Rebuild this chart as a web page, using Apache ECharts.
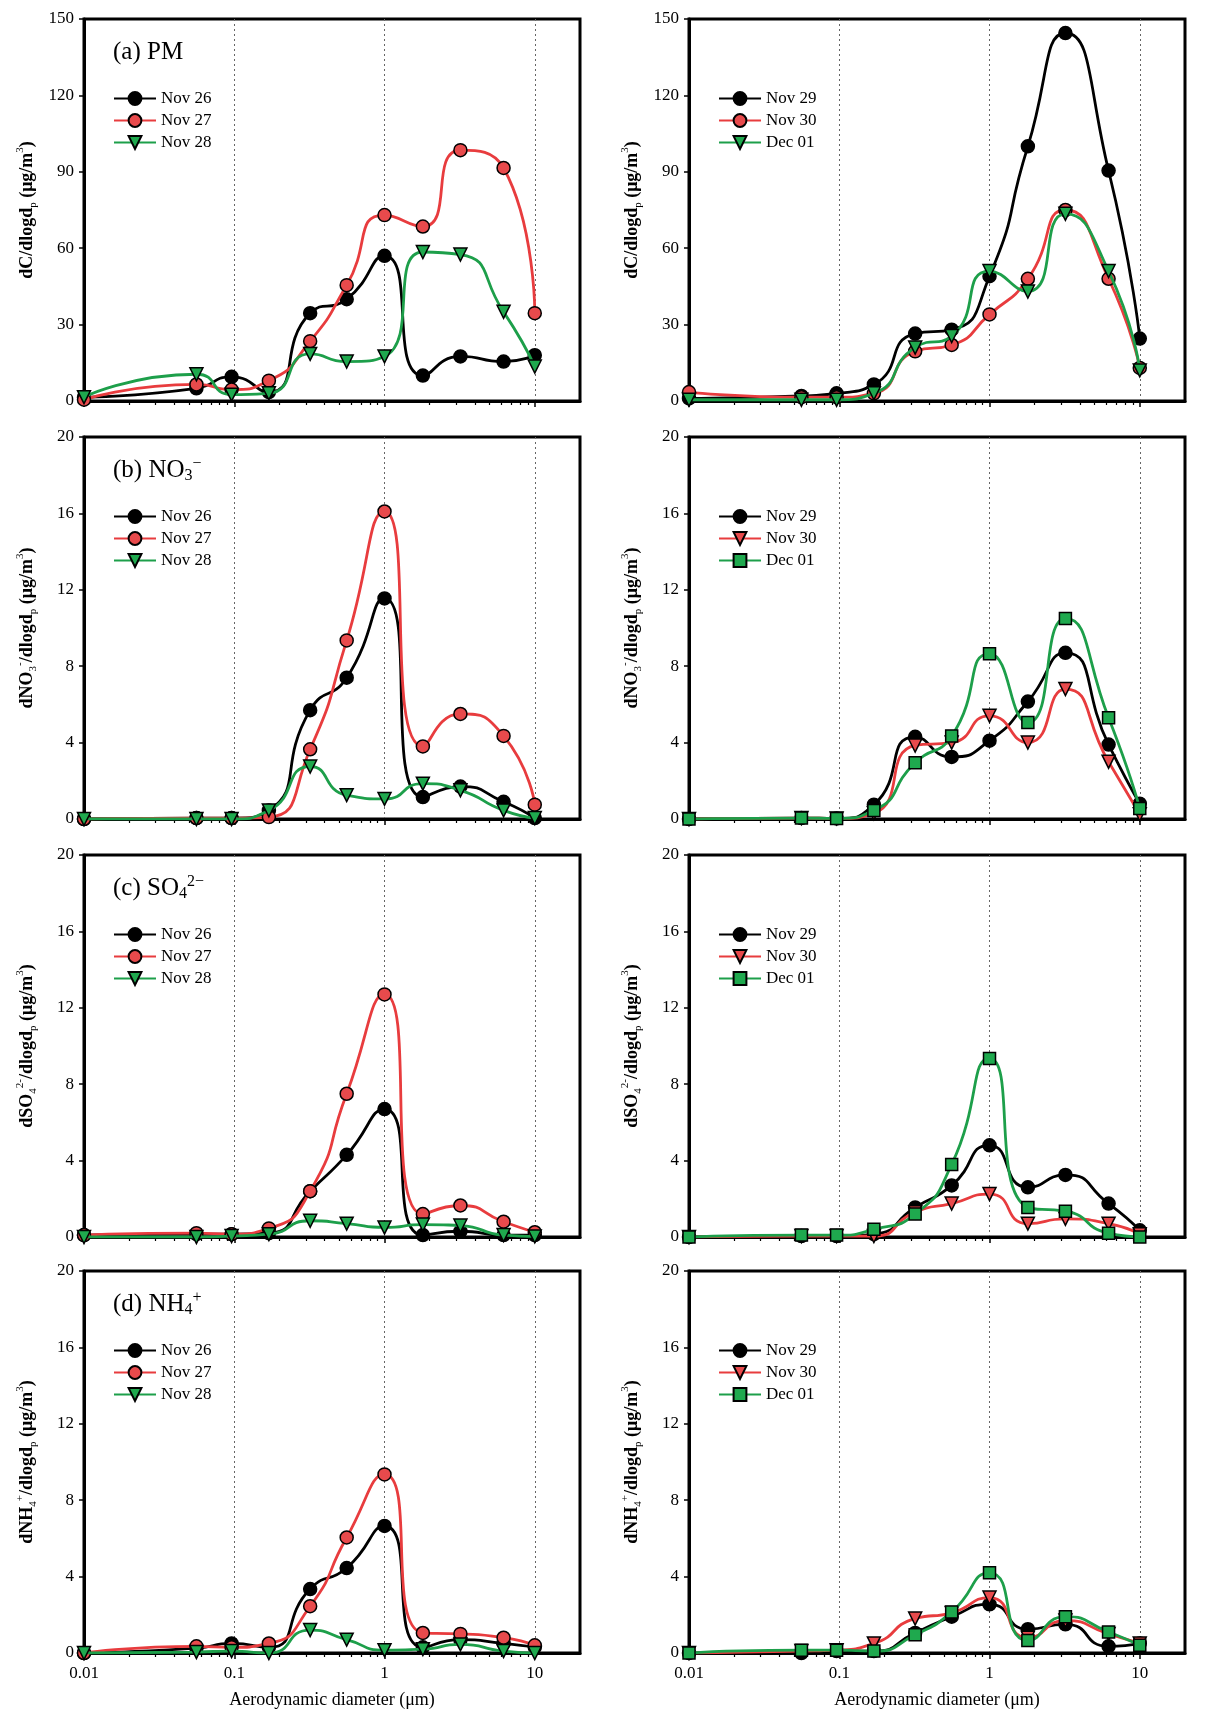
<!DOCTYPE html>
<html>
<head>
<meta charset="utf-8">
<title>Size distributions of PM and ions</title>
<script src="https://cdn.jsdelivr.net/npm/echarts@6/dist/echarts.min.js"></script>
<style>
  html, body { margin: 0; padding: 0; background: #fff; }
  #chart { width: 1218px; height: 1735px; }
</style>
</head>
<body>
<div id="chart"></div>
<script>
// aerodynamic diameter of each stage (um)
var diameters = [0.01, 0.056, 0.096, 0.17, 0.32, 0.56, 1.0, 1.8, 3.2, 6.2, 10];
var majorTicks = [0.01, 0.1, 1, 10];
var minorTicks = [0.02, 0.03, 0.04, 0.05, 0.06, 0.07, 0.08, 0.09,
                  0.2, 0.3, 0.4, 0.5, 0.6, 0.7, 0.8, 0.9,
                  2, 3, 4, 5, 6, 7, 8, 9];
var yTicks = [[0, 150, 30], [0, 20, 4], [0, 20, 4], [0, 20, 4]];

// (a) PM
var pmNov26 = [1.5, 5, 9.5, 3.5, 34.5, 40, 57, 10, 17.5, 15.5, 18];
var pmNov27 = [0.5, 6.5, 4.5, 8, 23.5, 45.5, 73, 68.5, 98.5, 91.5, 34.5];
var pmNov28 = [1.5, 10.5, 2.5, 3, 18.5, 15.5, 17.5, 58.5, 57.5, 35, 13.5];
var pmNov29 = [1, 2, 3, 6.5, 26.5, 28, 49, 100, 144.5, 90.5, 24.5];
var pmNov30 = [3.5, 1.5, 1.5, 3, 19.5, 22, 34, 48, 75, 48, 13];
var pmDec01 = [0.5, 0.5, 0.5, 3, 21, 25.5, 51, 43, 73.5, 51, 12];
// (b) NO3-
var no3Nov26 = [0, 0.05, 0.05, 0.45, 5.7, 7.4, 11.55, 1.15, 1.7, 0.9, 0.05];
var no3Nov27 = [0, 0.05, 0.05, 0.1, 3.65, 9.35, 16.1, 3.8, 5.5, 4.35, 0.75];
var no3Nov28 = [0, 0, 0, 0.45, 2.75, 1.25, 1.05, 1.85, 1.5, 0.45, 0.05];
var no3Nov29 = [0, 0.05, 0.03, 0.75, 4.3, 3.25, 4.1, 6.15, 8.7, 3.9, 0.8];
var no3Nov30 = [0, 0.05, 0.03, 0.3, 3.85, 4.0, 5.4, 4.0, 6.8, 3.0, 0.25];
var no3Dec01 = [0, 0.05, 0.03, 0.45, 2.95, 4.35, 8.65, 5.05, 10.5, 5.3, 0.55];
// (c) SO4 2-
var so4Nov26 = [0.1, 0.15, 0.15, 0.2, 2.4, 4.3, 6.7, 0.1, 0.3, 0.1, 0.1];
var so4Nov27 = [0.1, 0.2, 0.15, 0.45, 2.4, 7.5, 12.7, 1.2, 1.65, 0.8, 0.25];
var so4Nov28 = [0, 0, 0.05, 0.15, 0.85, 0.7, 0.5, 0.65, 0.6, 0.1, 0.03];
var so4Nov29 = [0, 0.05, 0.05, 0.15, 1.55, 2.7, 4.8, 2.6, 3.25, 1.75, 0.35];
var so4Nov30 = [0, 0.05, 0.05, 0.05, 1.3, 1.75, 2.25, 0.7, 0.95, 0.7, 0.15];
var so4Dec01 = [0, 0.1, 0.1, 0.4, 1.2, 3.8, 9.35, 1.55, 1.35, 0.2, 0];
// (d) NH4+
var nh4Nov26 = [0, 0.25, 0.5, 0.3, 3.35, 4.45, 6.65, 0.3, 0.7, 0.5, 0.3];
var nh4Nov27 = [0, 0.35, 0.3, 0.5, 2.45, 6.05, 9.35, 1.05, 1.0, 0.8, 0.4];
var nh4Nov28 = [0, 0.05, 0.1, 0, 1.2, 0.7, 0.15, 0.2, 0.45, 0.1, 0];
var nh4Nov29 = [0, 0, 0.1, 0.1, 1.05, 1.9, 2.55, 1.25, 1.5, 0.35, 0.5];
var nh4Nov30 = [0, 0.1, 0.15, 0.5, 1.8, 2.1, 2.9, 0.8, 1.7, 1.0, 0.5];
var nh4Dec01 = [0, 0.15, 0.15, 0.1, 0.95, 2.15, 4.2, 0.65, 1.9, 1.1, 0.4];

var leftDays = ['Nov 26', 'Nov 27', 'Nov 28'];
var rightDays = ['Nov 29', 'Nov 30', 'Dec 01'];
var panelTitles = ['(a) PM', '(b) NO{s|3}{u|\u2212}', '(c) SO{s|4}{u|2\u2212}', '(d) NH{s|4}{u|+}'];
var yNames = [
  '{t|dC/dlogd}{s|p}{t| (\u03bcg/m}{u|3}{t|)}',
  '{t|dNO}{s|3}{u|-}{t|/dlogd}{s|p}{t| (\u03bcg/m}{u|3}{t|)}',
  '{t|dSO}{s|4}{u|2-}{t|/dlogd}{s|p}{t| (\u03bcg/m}{u|3}{t|)}',
  '{t|dNH}{s|4}{u|+}{t|/dlogd}{s|p}{t| (\u03bcg/m}{u|3}{t|)}'
];

var leftValues = [
  [pmNov26, pmNov27, pmNov28],
  [no3Nov26, no3Nov27, no3Nov28],
  [so4Nov26, so4Nov27, so4Nov28],
  [nh4Nov26, nh4Nov27, nh4Nov28]
];
var rightValues = [
  [pmNov29, pmNov30, pmDec01],
  [no3Nov29, no3Nov30, no3Dec01],
  [so4Nov29, so4Nov30, so4Dec01],
  [nh4Nov29, nh4Nov30, nh4Dec01]
];

(function () {
  var chart = echarts.init(document.getElementById('chart'));
  var FONT = 'Liberation Serif';
  var DOWN_TRI = 'path://M0,0L10,0L5,9Z';
  var LINE_COLORS = ['#000000', '#e83c3e', '#1d9f4a'];
  var FILL_COLORS = ['#000000', '#e84a4c', '#1fa94e'];

  var gridTops = [19, 437, 855, 1271];
  var gridLefts = [84, 689];
  var gridW = 496, gridH = 382;

  var grids = [], xAxes = [], yAxes = [], series = [], legends = [], titles = [];

  function symbolsFor(col, row) {
    if (col === 0 || row === 0) return ['circle', 'circle', DOWN_TRI];
    return ['circle', DOWN_TRI, 'rect'];
  }

  for (var r = 0; r < 4; r++) {
    for (var c = 0; c < 2; c++) {
      var g = grids.length;
      var bottomRow = r === 3;
      grids.push({
        left: gridLefts[c], top: gridTops[r], width: gridW, height: gridH,
        show: true, borderColor: '#000', borderWidth: 3, backgroundColor: 'transparent'
      });
      // major log axis: labels, ticks, dotted lines
      xAxes.push({
        type: 'log', gridIndex: g, min: 0.01, max: 20, position: 'bottom',
        axisLine: { onZero: false, lineStyle: { color: '#000', width: 3 } },
        axisTick: { show: true, length: 6, customValues: majorTicks, lineStyle: { color: '#000', width: 1.5 } },
        axisLabel: {
          show: bottomRow, customValues: majorTicks, margin: 12,
          color: '#000', fontFamily: FONT, fontSize: 17,
          formatter: function (v) { return String(+(+v).toPrecision(3)); }
        },
        splitLine: { show: true, lineStyle: { color: '#666', type: [2, 3], width: 1 } },
        name: bottomRow ? 'Aerodynamic diameter (\u03bcm)' : '',
        nameLocation: 'middle', nameGap: 38,
        nameTextStyle: { color: '#000', fontFamily: FONT, fontSize: 18 }
      });
      // minor log ticks
      xAxes.push({
        type: 'log', gridIndex: g, min: 0.01, max: 20, position: 'bottom',
        axisLine: { show: false, onZero: false },
        axisTick: { show: true, length: 4, customValues: minorTicks, lineStyle: { color: '#000', width: 1.2 } },
        axisLabel: { show: false },
        splitLine: { show: false }
      });
      yAxes.push({
        type: 'value', gridIndex: g, min: yTicks[r][0], max: yTicks[r][1], interval: yTicks[r][2],
        axisLine: { show: true, lineStyle: { color: '#000', width: 3 } },
        axisTick: { show: true, length: 5, lineStyle: { color: '#000', width: 1.5 } },
        axisLabel: { margin: 10, color: '#000', fontFamily: FONT, fontSize: 17 },
        splitLine: { show: false },
        name: yNames[r], nameLocation: 'middle', nameGap: 45, nameRotate: 90,
        nameTextStyle: {
          color: '#000', fontFamily: FONT, fontSize: 18,
          rich: {
            t: { fontFamily: FONT, fontSize: 18, fontWeight: 'bold', lineHeight: 24, color: '#000' },
            s: { fontFamily: FONT, fontSize: 11, lineHeight: 11, verticalAlign: 'bottom', color: '#000' },
            u: { fontFamily: FONT, fontSize: 11, lineHeight: 11, verticalAlign: 'top', color: '#000' }
          }
        }
      });

      var days = c === 0 ? leftDays : rightDays;
      var vals = c === 0 ? leftValues[r] : rightValues[r];
      var syms = symbolsFor(c, r);
      var names = [];
      for (var k = 0; k < 3; k++) {
        var nm = days[k] + '|' + g;
        names.push(nm);
        series.push({
          name: nm, type: 'line', xAxisIndex: g * 2, yAxisIndex: g,
          data: diameters.map(function (d, i) { return [d, this[i]]; }, vals[k]),
          smooth: 0.6,
          symbol: syms[k], symbolSize: syms[k] === 'rect' ? 12 : 13,
          lineStyle: { color: LINE_COLORS[k], width: 2.8 },
          itemStyle: { color: FILL_COLORS[k], borderColor: '#000', borderWidth: 1.5 },
          z: 2 + k
        });
      }
      legends.push({
        orient: 'vertical', left: gridLefts[c] + 29, top: gridTops[r] + 71, padding: 0,
        itemWidth: 42, itemHeight: 16, itemGap: 5, selectedMode: false,
        data: names,
        formatter: function (n) { return n.split('|')[0]; },
        textStyle: { color: '#000', fontFamily: FONT, fontSize: 17, lineHeight: 17 }
      });
      if (c === 0) {
        titles.push({
          text: panelTitles[r], left: 113, top: gridTops[r] + 19, padding: 0,
          textStyle: {
            color: '#000', fontFamily: FONT, fontSize: 25, fontWeight: 'normal', lineHeight: 28,
            rich: {
              s: { fontFamily: FONT, fontSize: 16, lineHeight: 16, verticalAlign: 'bottom', color: '#000' },
              u: { fontFamily: FONT, fontSize: 16, lineHeight: 16, verticalAlign: 'top', color: '#000' }
            }
          }
        });
      }
    }
  }

  var option = {
    animation: false,
    backgroundColor: '#fff',
    textStyle: { fontFamily: FONT, color: '#000' },
    title: titles,
    legend: legends,
    grid: grids,
    xAxis: xAxes,
    yAxis: yAxes,
    series: series
  };
  chart.setOption(option);
  window.addEventListener('resize', function () {
    chart.resize();
  });
})();
</script>
</body>
</html>
